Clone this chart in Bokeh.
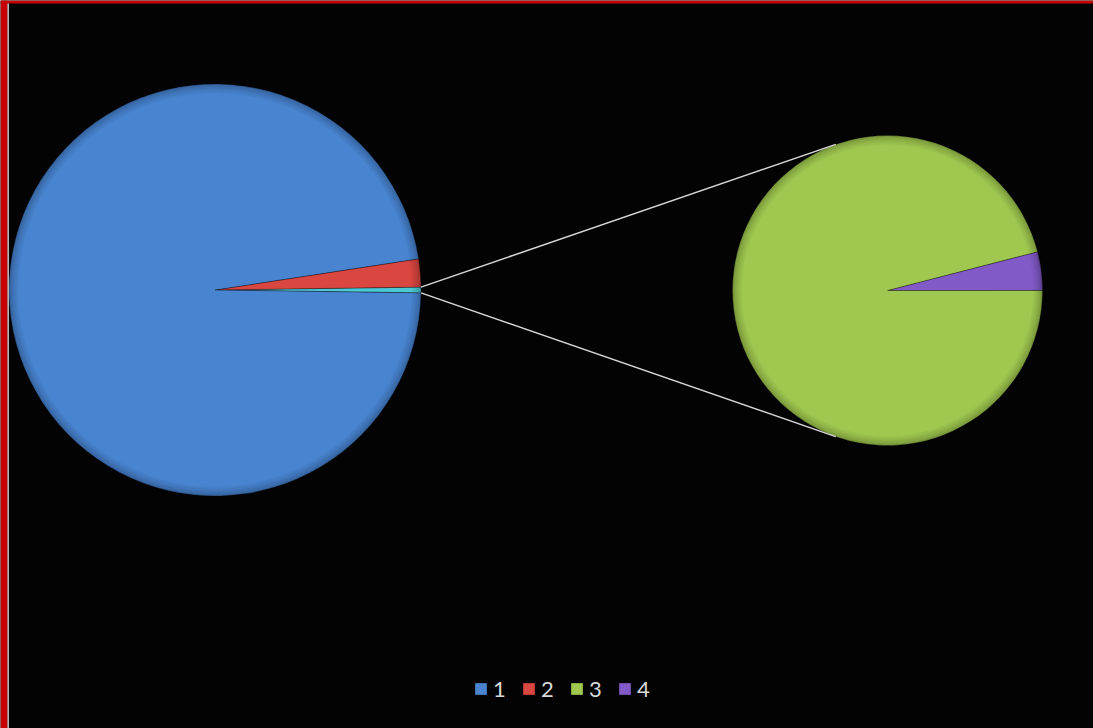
import numpy as np
from bokeh.plotting import figure
from bokeh.models import Range1d, Legend, LegendItem, ColumnDataSource
from bokeh.embed import file_html
from bokeh.resources import INLINE

# ---- data ----
categories = ["1", "2", "3", "4"]
values = [97.36, 2.19, 0.43, 0.018]
colors = ["#4884D0", "#DA4640", "#A0C850", "#825AC8"]
other_color = "#4BC8D2"
n_second = 2          # last two categories are split into the second pie
connector_angle_deg = 109.5

# ---- layout ----
W, H = 1093, 728
left_c = (214.5, 438.5)
left_r = 206
right_c = (887.0, 438.0)
right_r = 155

p = figure(width=W, height=H, x_range=Range1d(0, W), y_range=Range1d(0, H),
           output_backend="svg", toolbar_location=None,
           x_axis_location=None, y_axis_location=None, min_border=0,
           background_fill_color="#030303", border_fill_color="#030303",
           outline_line_color=None)
p.grid.visible = False

total = sum(values)
main_vals = values[:-n_second]
sub_vals = values[-n_second:]
other = sum(sub_vals)
two_pi = 2 * np.pi

# left pie: "other" slice centered on horizontal, then main slices counterclockwise
th_o = two_pi * other / total
starts, ends, cols = [-th_o / 2], [th_o / 2], [other_color]
a = th_o / 2
for v, c in zip(reversed(main_vals), reversed(colors[:-n_second])):
    da = two_pi * v / total
    starts.append(a)
    ends.append(a + da)
    cols.append(c)
    a += da
left_src = ColumnDataSource(dict(x=[left_c[0]] * len(starts), y=[left_c[1]] * len(starts),
                                 start=starts, end=ends, color=cols))
lr = p.wedge(x="x", y="y", radius=left_r, start_angle="start", end_angle="end",
             fill_color="color", line_color="black", line_alpha=0.3, line_width=1,
             source=left_src)

# right pie
s_starts, s_ends, s_cols = [], [], []
a = 0.0
for v, c in zip(reversed(sub_vals), reversed(colors[-n_second:])):
    da = two_pi * v / other
    s_starts.append(a)
    s_ends.append(a + da)
    s_cols.append(c)
    a += da
right_src = ColumnDataSource(dict(x=[right_c[0]] * len(s_starts), y=[right_c[1]] * len(s_starts),
                                  start=s_starts, end=ends[:0] + s_ends, color=s_cols))
rr = p.wedge(x="x", y="y", radius=right_r, start_angle="start", end_angle="end",
             fill_color="color", line_color="black", line_alpha=0.3, line_width=1,
             source=right_src)

# soft bevel rim
for (cx, cy), R in [(left_c, left_r), (right_c, right_r)]:
    for k in [1, 2, 3.5, 5, 7, 9]:
        p.annular_wedge(x=cx, y=cy, inner_radius=R - k, outer_radius=R,
                        start_angle=0, end_angle=two_pi, fill_color="black",
                        fill_alpha=0.045, line_color=None)

# connector lines
ca = np.deg2rad(connector_angle_deg)
for sgn in (1, -1):
    x0 = left_c[0] + left_r * np.cos(sgn * th_o / 2)
    y0 = left_c[1] + left_r * np.sin(sgn * th_o / 2)
    x1 = right_c[0] + right_r * np.cos(sgn * ca)
    y1 = right_c[1] + right_r * np.sin(sgn * ca)
    p.segment(x0=x0, y0=y0, x1=x1, y1=y1, line_color="#D8D8D8", line_width=1.5)

# frame border
p.quad(left=0, right=7, bottom=0, top=H, fill_color="#C80000", line_color=None)
p.quad(left=0, right=W, bottom=H - 3, top=H, fill_color="#C80000", line_color=None)
p.quad(left=7, right=8.3, bottom=0, top=H - 3, fill_color="#E8E8E8", line_color=None)

# legend
items = [
    LegendItem(label=categories[0], renderers=[lr], index=2),
    LegendItem(label=categories[1], renderers=[lr], index=1),
    LegendItem(label=categories[2], renderers=[rr], index=1),
    LegendItem(label=categories[3], renderers=[rr], index=0),
]
legend = Legend(items=items, orientation="horizontal", location=(473, 26),
                glyph_width=15, glyph_height=15, label_standoff=5, spacing=8,
                padding=0, margin=0, border_line_color=None,
                background_fill_alpha=0, label_text_color="#D9D9D9",
                label_text_font="Lato", label_text_font_size="22px",
                label_height=15)
p.add_layout(legend)

open("out.html", "w").write(file_html(p, INLINE))
